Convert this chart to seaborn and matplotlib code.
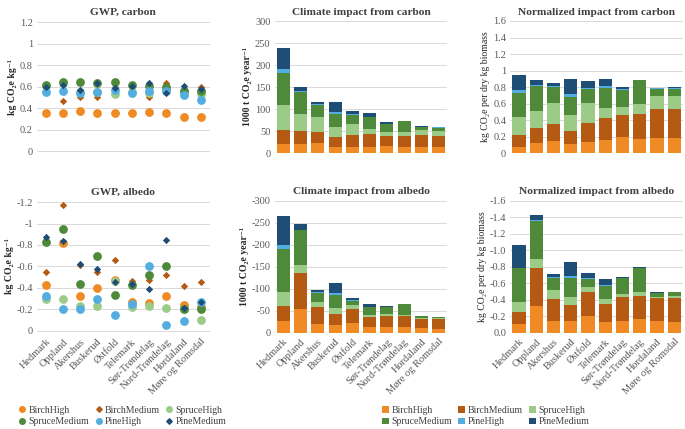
## Carbon and albedo climate impact per county, six panels

import numpy as np
import pandas as pd
import matplotlib
matplotlib.use("Agg")
import matplotlib.pyplot as plt
from matplotlib.lines import Line2D
from matplotlib.patches import Patch
import seaborn as sns

#----------------------------------------------------
# DATA
#----------------------------------------------------

regions = ["Hedmark", "Oppland", "Akershus", "Buskerud", "Østfold", "Telemark",
           "Sør-Trøndelag", "Nord-Trøndelag", "Hordaland", "Møre og Romsdal"]
series = ["BirchHigh", "BirchMedium", "SpruceHigh", "SpruceMedium", "PineHigh", "PineMedium"]
colors = ["#F08A24", "#B55A12", "#9CCB88", "#4F8A3B", "#53ADE0", "#1E4D76"]

# GWP, carbon (kg CO2e/kg)
gwp_carbon_birch_high = [0.35, 0.35, 0.37, 0.35, 0.35, 0.35, 0.36, 0.35, 0.32, 0.32]
gwp_carbon_birch_med = [0.61, 0.47, 0.50, 0.50, 0.60, 0.61, 0.50, 0.63, 0.58, 0.60]
gwp_carbon_spruce_high = [0.61, 0.63, 0.55, 0.55, 0.53, 0.55, 0.54, 0.57, 0.56, 0.53]
gwp_carbon_spruce_med = [0.62, 0.64, 0.64, 0.63, 0.64, 0.62, 0.61, 0.60, 0.56, 0.56]
gwp_carbon_pine_high = [0.55, 0.56, 0.54, 0.55, 0.57, 0.54, 0.56, 0.56, 0.52, 0.48]
gwp_carbon_pine_med = [0.60, 0.62, 0.57, 0.63, 0.59, 0.61, 0.63, 0.54, 0.61, 0.58]

# GWP, albedo (kg CO2e/kg)
gwp_albedo_birch_high = [-0.43, -0.82, -0.32, -0.40, -0.47, -0.27, -0.26, -0.32, -0.24, -0.22]
gwp_albedo_birch_med = [-0.55, -1.17, -0.61, -0.55, -0.66, -0.46, -0.47, -0.52, -0.42, -0.45]
gwp_albedo_spruce_high = [-0.30, -0.30, -0.23, -0.23, -0.46, -0.22, -0.23, -0.21, -0.20, -0.10]
gwp_albedo_spruce_med = [-0.83, -0.95, -0.44, -0.70, -0.33, -0.43, -0.52, -0.60, -0.20, -0.20]
gwp_albedo_pine_high = [-0.32, -0.20, -0.20, -0.30, -0.15, -0.25, -0.60, -0.05, -0.09, -0.27]
gwp_albedo_pine_med = [-0.87, -0.84, -0.62, -0.58, -0.45, -0.44, -0.39, -0.85, -0.21, -0.27]

# Climate impact from carbon (1000 t CO2e/year), stack segments
ci_carbon_birch_high = [21, 21, 22, 15, 15, 15, 16, 15, 13, 13]
ci_carbon_birch_med = [31, 30, 27, 21, 26, 28, 23, 24, 28, 26]
ci_carbon_spruce_high = [57, 37, 33, 24, 25, 12, 10, 10, 11, 12]
ci_carbon_spruce_med = [73, 51, 28, 28, 20, 26, 17, 24, 8, 7]
ci_carbon_pine_high = [9, 3, 2, 6, 2, 1, 1, 0, 0.5, 0.5]
ci_carbon_pine_med = [47, 9, 5, 23, 8, 9, 4, 0, 1, 1.5]

# Normalized impact from carbon (kg CO2e per dry kg biomass)
ni_carbon_birch_high = [0.08, 0.12, 0.15, 0.11, 0.14, 0.16, 0.19, 0.17, 0.18, 0.18]
ni_carbon_birch_med = [0.14, 0.18, 0.20, 0.16, 0.23, 0.27, 0.27, 0.30, 0.35, 0.36]
ni_carbon_spruce_high = [0.22, 0.21, 0.26, 0.19, 0.24, 0.12, 0.10, 0.12, 0.16, 0.15]
ni_carbon_spruce_med = [0.29, 0.30, 0.19, 0.22, 0.17, 0.24, 0.21, 0.29, 0.09, 0.09]
ni_carbon_pine_high = [0.04, 0.01, 0.01, 0.04, 0.01, 0.02, 0.01, 0.0, 0.005, 0.01]
ni_carbon_pine_med = [0.18, 0.06, 0.04, 0.18, 0.08, 0.09, 0.02, 0.0, 0.005, 0.01]

# Climate impact from albedo (1000 t CO2e/year), negative segments
ci_albedo_birch_high = [-26, -55, -21, -19, -22, -13, -13, -14, -11, -10]
ci_albedo_birch_med = [-35, -80, -37, -25, -32, -22, -26, -24, -21, -22]
ci_albedo_spruce_high = [-31, -20, -13, -12, -10, -5, -5, -3, -2, -2]
ci_albedo_spruce_med = [-99, -78, -19, -30, -9, -18, -15, -24, -4, -1.5]
ci_albedo_pine_high = [-8, -1, -4, -4, -1, -1, -0.5, 0, -0.5, -0.5]
ci_albedo_pine_med = [-67, -14, -4, -23, -6, -6, -1, 0, -0.5, -0.5]

# Normalized impact from albedo (kg CO2e per dry kg biomass)
ni_albedo_birch_high = [-0.11, -0.32, -0.15, -0.14, -0.20, -0.13, -0.15, -0.17, -0.14, -0.13]
ni_albedo_birch_med = [-0.14, -0.46, -0.26, -0.20, -0.29, -0.22, -0.28, -0.28, -0.28, -0.29]
ni_albedo_spruce_high = [-0.12, -0.12, -0.11, -0.09, -0.07, -0.06, -0.04, -0.05, -0.02, -0.03]
ni_albedo_spruce_med = [-0.41, -0.46, -0.15, -0.24, -0.09, -0.16, -0.19, -0.28, -0.04, -0.04]
ni_albedo_pine_high = [-0.01, -0.01, -0.01, -0.02, -0.01, -0.005, -0.005, -0.01, -0.005, -0.005]
ni_albedo_pine_med = [-0.27, -0.06, -0.03, -0.17, -0.06, -0.08, -0.01, -0.005, -0.005, -0.005]

#----------------------------------------------------
# STYLE
#----------------------------------------------------

sns.set_theme(style="white")
plt.rcParams["font.family"] = ["Liberation Serif", "DejaVu Serif"]
plt.rcParams["axes.unicode_minus"] = False

TICK_COLOR = "#595959"
GRID_COLOR = "#D9D9D9"

#----------------------------------------------------
# helpers
#----------------------------------------------------

def style_axis(ax, title, ylabel, yticks, ylabels, ylim, bold_label=True, show_x=False):
    ax.set_title(title, fontsize=8.2, fontweight="bold", color="#404040", pad=4)
    ax.set_ylabel(ylabel, fontsize=7, fontweight="bold" if bold_label else "normal",
                  color="#262626", labelpad=2)
    ax.set_xlabel("")
    ax.set_yticks(yticks)
    ax.set_yticklabels(ylabels)
    ax.set_ylim(*ylim)
    ax.set_xlim(-0.5, len(regions) - 0.5)
    ax.yaxis.grid(True, color=GRID_COLOR, linewidth=0.7)
    ax.set_axisbelow(True)
    for s in ax.spines.values():
        s.set_visible(False)
    ax.tick_params(axis="y", length=0, labelsize=7.5, labelcolor=TICK_COLOR, pad=3)
    ax.set_xticks(range(len(regions)))
    if show_x:
        ax.set_xticklabels(regions, rotation=45, ha="right", rotation_mode="anchor")
        ax.tick_params(axis="x", length=0, labelsize=7.5, labelcolor=TICK_COLOR, pad=3)
    else:
        ax.set_xticklabels([])
        ax.tick_params(axis="x", length=0)


def draw_scatter(ax, values):
    rows = []
    for name, vals in zip(series, values):
        for r, v in zip(regions, vals):
            rows.append({"region": r, "series": name, "value": v})
    df = pd.DataFrame(rows)
    markers = {"BirchHigh": "o", "BirchMedium": "D", "SpruceHigh": "o",
               "SpruceMedium": "o", "PineHigh": "o", "PineMedium": "D"}
    sizes = {"o": 40, "D": 14}
    for name, col in zip(series, colors):
        sub = df[df["series"] == name]
        sns.scatterplot(data=sub, x="region", y="value", color=col, marker=markers[name],
                        s=sizes[markers[name]], linewidth=0, ax=ax, legend=False)


def draw_stack(ax, values):
    cum = np.cumsum(np.array(values, dtype=float), axis=0)
    # draw tallest first, each lower layer over it
    for i in range(len(series) - 1, -1, -1):
        df = pd.DataFrame({"region": regions, "value": cum[i]})
        sns.barplot(data=df, x="region", y="value", color=colors[i], saturation=1,
                    width=0.76, ax=ax, linewidth=0, errorbar=None)


def fmt(v, dec=None):
    if dec is not None:
        s = f"{v:.{dec}f}"
    else:
        s = f"{v:g}"
    if s.startswith("-0") and float(s) == 0:
        s = s[1:]
    return s

#----------------------------------------------------
# MAIN
#----------------------------------------------------

def main():
    fig = plt.figure(figsize=(6.85, 4.29), dpi=100)

    lefts = [0.054, 0.401, 0.745]
    w = 0.252
    top_b, top_h = 0.643, 0.310
    bot_b, bot_h = 0.224, 0.310

    # GWP carbon
    ax = fig.add_axes([lefts[0], top_b, w, top_h])
    draw_scatter(ax, [gwp_carbon_birch_high, gwp_carbon_birch_med, gwp_carbon_spruce_high,
                      gwp_carbon_spruce_med, gwp_carbon_pine_high, gwp_carbon_pine_med])
    t = np.round(np.arange(0, 1.21, 0.2), 1)
    style_axis(ax, "GWP, carbon", "kg CO₂e kg⁻¹", t, [fmt(v) for v in t], (-0.02, 1.22))

    # Climate impact carbon
    ax = fig.add_axes([lefts[1], top_b, w, top_h])
    draw_stack(ax, [ci_carbon_birch_high, ci_carbon_birch_med, ci_carbon_spruce_high,
                    ci_carbon_spruce_med, ci_carbon_pine_high, ci_carbon_pine_med])
    t = np.arange(0, 301, 50)
    style_axis(ax, "Climate impact from carbon", "1000 t CO₂e year⁻¹", t,
               [fmt(v) for v in t], (0, 302))

    # Normalized carbon
    ax = fig.add_axes([lefts[2], top_b, w, top_h])
    draw_stack(ax, [ni_carbon_birch_high, ni_carbon_birch_med, ni_carbon_spruce_high,
                    ni_carbon_spruce_med, ni_carbon_pine_high, ni_carbon_pine_med])
    t = np.round(np.arange(0, 1.61, 0.2), 1)
    style_axis(ax, "Normalized impact from carbon", "kg CO₂e per dry kg biomass", t,
               [fmt(v) for v in t], (0, 1.61), bold_label=False)

    # GWP albedo
    ax = fig.add_axes([lefts[0], bot_b, w, bot_h])
    draw_scatter(ax, [gwp_albedo_birch_high, gwp_albedo_birch_med, gwp_albedo_spruce_high,
                      gwp_albedo_spruce_med, gwp_albedo_pine_high, gwp_albedo_pine_med])
    t = np.round(np.arange(0, -1.21, -0.2), 1)
    style_axis(ax, "GWP, albedo", "kg CO₂e kg⁻¹", t, [fmt(v) for v in t], (0.02, -1.22),
               show_x=True)

    # Climate impact albedo
    ax = fig.add_axes([lefts[1], bot_b, w, bot_h])
    draw_stack(ax, [ci_albedo_birch_high, ci_albedo_birch_med, ci_albedo_spruce_high,
                    ci_albedo_spruce_med, ci_albedo_pine_high, ci_albedo_pine_med])
    t = np.arange(0, -301, -50)
    style_axis(ax, "Climate impact from albedo", "1000 t CO₂e year⁻¹", t,
               [fmt(v) for v in t], (0, -302), show_x=True)

    # Normalized albedo
    ax = fig.add_axes([lefts[2], bot_b, w, bot_h])
    draw_stack(ax, [ni_albedo_birch_high, ni_albedo_birch_med, ni_albedo_spruce_high,
                    ni_albedo_spruce_med, ni_albedo_pine_high, ni_albedo_pine_med])
    t = np.round(np.arange(0, -1.61, -0.2), 1)
    style_axis(ax, "Normalized impact from albedo", "kg CO₂e per dry kg biomass", t,
               [fmt(v, 1) for v in t], (0, -1.61), bold_label=False, show_x=True)

    # legends, filled row by row like the original
    order = [0, 3, 1, 4, 2, 5]
    mk = {"BirchHigh": "o", "BirchMedium": "D", "SpruceHigh": "o",
          "SpruceMedium": "o", "PineHigh": "o", "PineMedium": "D"}
    h_pts = [Line2D([], [], linestyle="none", marker=mk[n], color=c,
                    markersize=4 if mk[n] == "o" else 2.8) for n, c in zip(series, colors)]
    h_bars = [Patch(facecolor=c, edgecolor="none") for c in colors]
    labels = [series[i] for i in order]
    leg_kw = dict(ncol=3, frameon=False, fontsize=7, handlelength=0.7, handletextpad=0.3,
                  columnspacing=0.6, labelspacing=0.3, labelcolor="#404040")
    fig.legend([h_pts[i] for i in order], labels, loc="upper left",
               bbox_to_anchor=(0.015, 0.075), **leg_kw)
    fig.legend([h_bars[i] for i in order], labels, loc="upper left",
               bbox_to_anchor=(0.545, 0.075), handleheight=0.7, **leg_kw)

    fig.savefig("out.png", dpi=100)


if __name__ == '__main__':
    main()
